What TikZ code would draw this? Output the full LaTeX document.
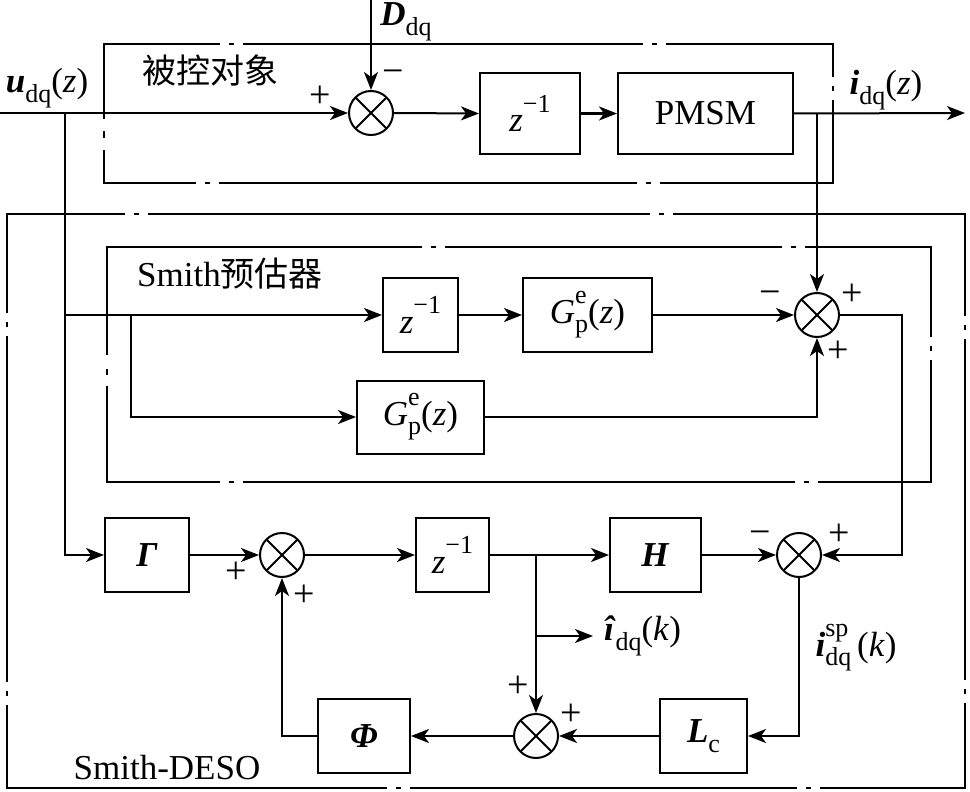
\documentclass[tikz,border=0pt]{standalone}
\usepackage{fontspec}
\setmainfont{Liberation Serif}
\newfontfamily\cjk{Noto Sans CJK SC}
\usetikzlibrary{arrows.meta}
\newcommand\lsub[1]{\raisebox{-0.28em}{\fontsize{26}{28}\selectfont #1}}
\newcommand\lsup[1]{\raisebox{0.55em}{\fontsize{26}{28}\selectfont #1}}
\newcommand\bi[1]{\textbf{\textit{#1}}}
\begin{document}
\begin{tikzpicture}[x=1pt,y=-1pt,line width=2pt,
  font=\fontsize{35}{40}\selectfont,
  blk/.style={draw,rectangle,inner sep=0pt},
  sumj/.style={draw,circle,minimum size=44pt,inner sep=0pt,
    path picture={\draw[line width=1.8pt] (path picture bounding box.north west) -- (path picture bounding box.south east)
      (path picture bounding box.south west) -- (path picture bounding box.north east);}},
  arr/.style={-{Stealth[length=18pt,width=14pt,inset=5pt]}},
  sgn/.style={font=\fontsize{38}{40}\selectfont,inner sep=0pt},
  lbl/.style={inner sep=0pt},
  framel/.style={line width=2pt,line cap=butt}]
\useasboundingbox (0,0) rectangle (970,792);

% frames (dash-dot)
\draw[framel] (243,44)--(643,44) (652,44)--(657,44) (666,44)--(833,44)--(833,77)
  (833,86)--(833,91) (833,100)--(833,183)--(660,183) (651,183)--(646,183)
  (637,183)--(219,183) (210,183)--(205,183) (196,183)--(104,183)--(104,150)
  (104,138)--(104,131) (104,119)--(104,44)--(220,44) (229,44)--(234,44);
\draw[framel] (148,214)--(650,214) (659,214)--(664,214) (673,214)--(965,214)--(965,316)
  (965,325)--(965,330) (965,339)--(965,680) (965,689)--(965,694)
  (965,703)--(965,788)--(820,788) (811,788)--(806,788) (797,788)--(410,788)
  (401,788)--(396,788) (387,788)--(7,788)--(7,705) (7,696)--(7,691)
  (7,682)--(7,336) (7,327)--(7,322) (7,313)--(7,214)--(125,214) (134,214)--(139,214);
\draw[framel] (445,247)--(782,247) (791,247)--(796,247) (805,247)--(931,247)--(931,337)
  (931,346)--(931,351) (931,360)--(931,482)--(818,482) (809,482)--(804,482)
  (795,482)--(243,482) (234,482)--(229,482) (220,482)--(107,482)--(107,386)
  (107,375)--(107,369) (107,355)--(107,247)--(422,247) (431,247)--(436,247);

% frame labels
\node[lbl] (lplant) at (210,70) {\cjk\fontsize{34}{38}\selectfont 被控对象};
\node[lbl] (lsmith) at (230,274) {Smith{\cjk\fontsize{34}{38}\selectfont 预估器}};
\node[lbl] (ldeso) at (167,768) {Smith-DESO};

% blocks
\node[blk,minimum width=100pt,minimum height=81pt] (zA) at (530,113.5) {\textit{z}\lsup{−1}};
\node[blk,minimum width=175pt,minimum height=81pt] (pmsm) at (705.5,113.5) {PMSM};
\node[blk,minimum width=75pt,minimum height=74pt] (zB) at (420.5,315) {\textit{z}\lsup{−1}};
\node[blk,minimum width=129pt,minimum height=74pt] (G1) at (587.5,315) {\textit{G}\rlap{\lsup{e}}\lsub{p}(\textit{z})};
\node[blk,minimum width=127pt,minimum height=73pt] (G2) at (420.5,417) {\textit{G}\rlap{\lsup{e}}\lsub{p}(\textit{z})};
\node[blk,minimum width=84pt,minimum height=74pt] (Gam) at (147,555) {\bi{Γ}};
\node[blk,minimum width=73pt,minimum height=74pt] (zC) at (452.5,555) {\textit{z}\lsup{−1}};
\node[blk,minimum width=91pt,minimum height=74pt] (H) at (655.5,555) {\bi{H}};
\node[blk,minimum width=87pt,minimum height=74pt] (Lc) at (703.5,736) {\bi{L}\lsub{c}};
\node[blk,minimum width=92pt,minimum height=74pt] (Phi) at (364,736) {\bi{Φ}};

% summing junctions
\node[sumj] (s1) at (371,113) {};
\node[sumj] (s2) at (817,315) {};
\node[sumj] (s4) at (282,555) {};
\node[sumj] (s3) at (799,555) {};
\node[sumj] (s5) at (536,736) {};

% coordinates
\coordinate (in) at (0,113);
\coordinate (bA) at (65,113);
\coordinate (bB) at (65,315);
\coordinate (bC) at (131,315);
\coordinate (dtop) at (371,0);
\coordinate (bD) at (817,113);
\coordinate (out) at (965,113);
\coordinate (c1) at (902,315);
\coordinate (bE) at (536,555);
\coordinate (bF) at (536,636);
\coordinate (ihat) at (593,636);

% connectors
\draw[arr] (in) -- (s1.west);
\draw[arr] (bA) |- (Gam.west);
\draw[arr] (bB) -- (zB.west);
\draw[arr] (bC) |- (G2.west);
\draw[arr] (dtop) -- (s1.north);
\draw[arr] (s1.east) -- (zA.west);
\draw[arr] (zA.east) -- (pmsm.west);
\draw[arr] (pmsm.east) -- (out);
\draw[arr] (bD) -- (s2.north);
\draw[arr] (zB.east) -- (G1.west);
\draw[arr] (G1.east) -- (s2.west);
\draw[arr] (G2.east) -| (s2.south);
\draw[arr] (s2.east) -- (c1) |- (s3.east);
\draw[arr] (Gam.east) -- (s4.west);
\draw[arr] (s4.east) -- (zC.west);
\draw[arr] (zC.east) -- (H.west);
\draw[arr] (H.east) -- (s3.west);
\draw[arr] (bE) -- (s5.north);
\draw[arr] (bF) -- (ihat);
\draw[arr] (s3.south) |- (Lc.east);
\draw[arr] (Lc.west) -- (s5.east);
\draw[arr] (s5.west) -- (Phi.east);
\draw[arr] (Phi.west) -| (s4.south);

% signal labels
\node[lbl] (lu) at (47,88) {\bi{u}\lsub{dq}(\textit{z})};
\node[lbl] (lD) at (406,22) {\bi{D}\lsub{dq}};
\node[lbl] (li) at (886,90) {\bi{i}\lsub{dq}(\textit{z})};
\node[lbl,anchor=west] (lih) at (603,636) {\bi{î}\lsub{dq}(\textit{k})};
\node[lbl] (lisp) at (856,648) {\bi{i}\rlap{\lsup{sp}}\lsub{dq}\,(\textit{k})};

% signs
\node[sgn] (p1) at (320,97) {+};
\node[sgn] (m1) at (393,77) {−};
\node[sgn] (m2) at (770,298) {−};
\node[sgn] (p2) at (852,295) {+};
\node[sgn] (p3) at (838,352) {+};
\node[sgn] (p4) at (236,573) {+};
\node[sgn] (p5) at (304,596) {+};
\node[sgn] (m3) at (760,538) {−};
\node[sgn] (p6) at (839,535) {+};
\node[sgn] (p7) at (518,687) {+};
\node[sgn] (p8) at (571,715) {+};
\end{tikzpicture}
\end{document}
